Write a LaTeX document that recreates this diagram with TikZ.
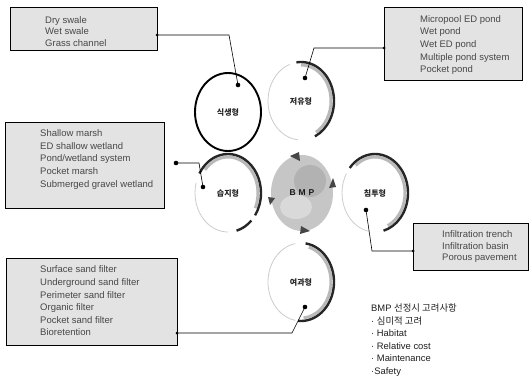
\documentclass[tikz,border=0pt]{standalone}
\usepackage{fontspec}
\setmainfont{Liberation Sans}
\newfontfamily\kr{Noto Sans CJK KR}
\usetikzlibrary{shapes.geometric}
\begin{document}
\begin{tikzpicture}[x=1pt,y=-1pt,
  listbox/.style={draw=black, line width=1.1pt, fill=gray!22, inner sep=0pt, anchor=north west},
  boxtext/.style={anchor=west, align=left, inner sep=0pt, text=black!72, font=\fontsize{9.5}{12.6}\selectfont},
  dot/.style={circle, fill=black, inner sep=0pt, minimum size=4.6pt},
  sdot/.style={circle, fill=black, inner sep=0pt, minimum size=3pt},
  link/.style={draw=black, line width=0.6pt},
  ring/.style={ellipse, inner sep=0pt, minimum width=66pt, minimum height=78pt, font=\kr\bfseries\fontsize{8}{9}\selectfont, text=black!85},
  darkarc/.style={line width=2.4pt, draw=gray!30!black},
  midarc/.style={line width=3pt, draw=gray!55},
  lightarc/.style={line width=0.8pt, draw=gray!40},
  tip/.style={fill=gray!55!black}
]
\useasboundingbox (0,0) rectangle (532,383);

% ---------- list boxes ----------
\node[listbox, minimum width=147pt, minimum height=43pt] (b1) at (10,7) {};
\node[boxtext, font=\fontsize{9.5}{11.5}\selectfont] (t1) at (45,31.5) {Dry swale\\Wet swale\\Grass channel};

\node[listbox, minimum width=138pt, minimum height=73pt] (b2) at (384,7) {};
\node[boxtext] (t2) at (420,45) {Micropool ED pond\\Wet pond\\Wet ED pond\\Multiple pond system\\Pocket pond};

\node[listbox, minimum width=159pt, minimum height=86pt] (b3) at (5,122) {};
\node[boxtext] (t3) at (40,159.5) {Shallow marsh\\ED shallow wetland\\Pond/wetland system\\Pocket marsh\\Submerged gravel wetland};

\node[listbox, minimum width=115pt, minimum height=47pt] (b4) at (413,223) {};
\node[boxtext, font=\fontsize{9.5}{11.5}\selectfont] (t4) at (442,247) {Infiltration trench\\Infiltration basin\\Porous pavement};

\node[listbox, minimum width=171pt, minimum height=87pt] (b5) at (6,258) {};
\node[boxtext] (t5) at (40,301) {Surface sand filter\\Underground sand filter\\Perimeter sand filter\\Organic filter\\Pocket sand filter\\Bioretention};

% ---------- circles ----------
\node[ring, draw=black, line width=1.9pt] (c1) at (228,112) {식생형};

\node[ring] (c2) at (301,101) {저유형};
\draw[lightarc] (c2.center) ++(-110:33 and 39) arc[start angle=-110, end angle=-265, x radius=33, y radius=39];
\draw[midarc] (c2.center) ++(-90:30 and 36) arc[start angle=-90, end angle=60, x radius=30, y radius=36];
\draw[darkarc] (c2.center) ++(-98:33 and 39) arc[start angle=-98, end angle=65, x radius=33, y radius=39];

\node[ring] (c3) at (228,193) {습지형};
\draw[lightarc] (c3.center) ++(-165:33 and 39) arc[start angle=-165, end angle=-270, x radius=33, y radius=39];
\draw[midarc] (c3.center) ++(-140:30 and 36) arc[start angle=-140, end angle=25, x radius=30, y radius=36];
\draw[darkarc] (c3.center) ++(-150:33 and 39) arc[start angle=-150, end angle=35, x radius=33, y radius=39];
\draw[darkarc] (c3.center) ++(45:33 and 39) arc[start angle=45, end angle=75, x radius=33, y radius=39];

\node[ring] (c5) at (375,193) {침투형};
\draw[lightarc] (c5.center) ++(-150:33 and 39) arc[start angle=-150, end angle=-260, x radius=33, y radius=39];
\draw[midarc] (c5.center) ++(-130:30 and 36) arc[start angle=-130, end angle=65, x radius=30, y radius=36];
\draw[darkarc] (c5.center) ++(-140:33 and 39) arc[start angle=-140, end angle=75, x radius=33, y radius=39];

\node[ring] (c6) at (301,282) {여과형};
\draw[lightarc] (c6.center) ++(-100:33 and 39) arc[start angle=-100, end angle=-260, x radius=33, y radius=39];
\draw[midarc] (c6.center) ++(-75:30 and 36) arc[start angle=-75, end angle=85, x radius=30, y radius=36];
\draw[darkarc] (c6.center) ++(-82:33 and 39) arc[start angle=-82, end angle=95, x radius=33, y radius=39];

% ---------- BMP hub ----------
\node[ellipse, inner sep=0pt, minimum width=62pt, minimum height=76pt, fill=gray!45] (bmp) at (302,193) {};
\fill[gray!60] (bmp.center) ++(8,-12) ellipse[x radius=16, y radius=16];
\fill[gray!30] (bmp.center) ++(-6,14) ellipse[x radius=16, y radius=12];
\fill[tip] (bmp.center) ++(-12,-37) -- ++(9,-4) -- ++(1,9) -- cycle;
\fill[tip] (bmp.center) ++(31,-15) -- ++(3,9) -- ++(-7,1) -- cycle;
\fill[tip] (bmp.center) ++(8,38) -- ++(-10,3) -- ++(1,-8) -- cycle;
\fill[tip] (bmp.center) ++(-32,12) -- ++(-2,-8) -- ++(7,1) -- cycle;
\node[font=\bfseries\fontsize{8.5}{9}\selectfont, text=black!90] (bmptext) at (bmp.center) {B\,\,M\,\,P};

% ---------- dots and connectors ----------
\node[dot] (d1) at (238,85) {};
\node[sdot] (s1) at (157,35) {};
\coordinate (k1) at (229,35);
\draw[link] (s1.center) -- (k1) -- (d1.center);

\node[dot] (d2) at (305,78) {};
\node[sdot] (s2) at (384,48) {};
\coordinate (k2) at (314,48);
\draw[link] (s2.center) -- (k2) -- (d2.center);

\node[dot] (d3) at (203,187) {};
\node[dot] (s3) at (176,163) {};
\coordinate (k3) at (199,163);
\draw[link] (s3.center) -- (k3) -- (d3.center);

\node[dot] (d4) at (366,210) {};
\node[sdot] (s4) at (413,251) {};
\coordinate (k4) at (372,251);
\draw[link] (d4.center) -- (k4) -- (s4.center);

\node[dot] (d6) at (305,307) {};
\node[sdot] (s5) at (177,333) {};
\coordinate (k5) at (292,333);
\draw[link] (s5.center) -- (k5) -- (d6.center);

% ---------- note ----------
\node[anchor=north west, align=left, inner sep=0pt, text=black!88, font=\fontsize{9.4}{12.6}\selectfont] (note) at (371,303.5)
  {BMP {\kr 선정시 고려사항}\\· {\kr 심미적 고려}\\· Habitat\\· Relative cost\\· Maintenance\\·Safety};
\end{tikzpicture}
\end{document}
